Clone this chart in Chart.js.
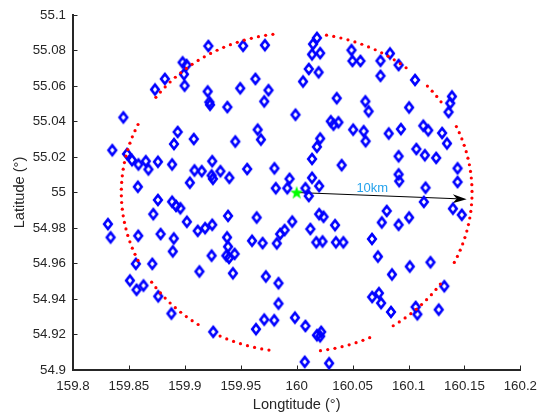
<!DOCTYPE html>
<html>
<head>
<meta charset="utf-8">
<script src="https://cdn.jsdelivr.net/npm/chart.js@4"></script>
<style>
  html, body { margin: 0; padding: 0; background: #fff; }
  #wrap { width: 545px; height: 417px; }
</style>
</head>
<body>
<div id="wrap"><canvas id="myChart" width="545" height="417"></canvas></div>
<script>
const ctx = document.querySelector("#myChart")

// candidate sites (longitude / latitude, degrees)
const siteLon = [
  159.8450, 159.8351, 159.8483, 159.8527, 159.8585, 159.8651, 159.8674, 159.8759, 159.8886, 159.8903,
  159.8936, 159.9080, 159.9045, 159.9086, 159.9151, 159.9245, 159.9239, 159.9251, 159.9318, 159.9398,
  159.9557, 159.9451, 159.9651, 159.9680, 159.9801, 159.9936, 159.9813, 159.9916, 159.9989, 159.8733,
  159.8821, 159.8980, 159.9015, 159.8992, 159.8998, 159.9210, 159.9204, 159.9219, 159.9225, 159.9380,
  159.9495, 159.9521, 159.9716, 159.9631, 159.9748, 159.9710, 159.8580,
  160.0181, 160.0146, 160.0137, 160.0210, 160.0108, 160.0196, 160.0057, 160.0490, 160.0499, 160.0570,
  160.0749, 160.0834, 160.0911, 160.0749, 160.1058, 160.0358, 160.0614, 160.0643, 160.0305, 160.0329,
  160.0373, 160.0505, 160.0599, 160.0616, 160.0823, 160.0932, 160.1005, 160.1388, 160.1373, 160.1358,
  160.1132, 160.1176, 160.1300, 160.1344, 160.0210, 160.0181, 160.0137, 160.0402, 160.0911, 160.1070,
  160.1146, 160.1247, 160.1438, 160.1438, 160.0911, 160.0917, 160.0137, 160.0201, 160.0078, 160.1152,
  159.8312, 159.8336, 159.8583, 159.8562, 159.8509, 159.8568, 159.8630, 159.8759, 159.8718, 159.8783,
  159.8709, 159.8762, 159.8886, 159.8921, 159.8960, 159.8901, 159.8892, 159.8880, 159.9018, 159.9115,
  159.9181, 159.9245, 159.9386, 159.9130, 159.9239, 159.9377, 159.9386, 159.9371, 159.9395, 159.9445,
  159.9430, 159.9254, 159.9642, 159.9601, 159.9695, 159.9822, 159.9852, 159.9892, 159.9960, 159.9724,
  159.9837, 159.9837, 159.9636, 159.9710, 159.9799, 159.9984,
  160.0108, 160.1137, 160.1397, 160.1476, 160.0201, 160.0240, 160.0122, 160.0343, 160.0175, 160.0231,
  160.0351, 160.0417, 160.0805, 160.0761, 160.0911, 160.1005, 160.0673, 160.0726, 160.0852, 160.1011,
  160.1196, 160.1320, 160.0675, 160.0735, 160.0755, 160.0843, 160.1064, 160.1079, 160.1270, 160.0078,
  160.0181, 160.0219, 160.0210, 160.0072, 160.0290
]
const siteLat = [
  55.0423, 55.0238, 55.0217, 55.0182, 55.0158, 55.0176, 55.0130, 55.0173, 55.0158, 55.0273,
  55.0341, 55.0301, 55.0055, 55.0124, 55.0120, 55.0176, 55.0096, 55.0077, 55.0120, 55.0083,
  55.0132, 55.0287, 55.0354, 55.0298, 55.0136, 55.0077, 55.0024, 55.0024, 55.0438, 55.0580,
  55.0640, 55.0733, 55.0718, 55.0666, 55.0602, 55.0825, 55.0569, 55.0509, 55.0494, 55.0481,
  55.0587, 55.0826, 55.0830, 55.0640, 55.0576, 55.0513, 55.0032,
  55.0871, 55.0836, 55.0778, 55.0785, 55.0696, 55.0677, 55.0625, 55.0802, 55.0741, 55.0741,
  55.0742, 55.0783, 55.0718, 55.0657, 55.0634, 55.0531, 55.0513, 55.0457, 55.0401, 55.0382,
  55.0395, 55.0354, 55.0345, 55.0289, 55.0332, 55.0357, 55.0479, 55.0541, 55.0503, 55.0453,
  55.0376, 55.0350, 55.0335, 55.0276, 55.0304, 55.0257, 55.0189, 55.0154, 55.0204, 55.0245,
  55.0210, 55.0195, 55.0136, 55.0059, 55.0102, 55.0064, 55.0083, 55.0036, 55.0024, 55.0027,
  54.9822, 54.9747, 54.9756, 54.9598, 54.9504, 54.9452, 54.9476, 54.9958, 54.9878, 54.9766,
  54.9598, 54.9415, 54.9948, 54.9924, 54.9911, 54.9741, 54.9668, 54.9318, 54.9835, 54.9784,
  54.9799, 54.9818, 54.9868, 54.9555, 54.9644, 54.9747, 54.9695, 54.9644, 54.9631, 54.9654,
  54.9545, 54.9215, 54.9859, 54.9728, 54.9715, 54.9713, 54.9766, 54.9788, 54.9836, 54.9527,
  54.9489, 54.9374, 54.9230, 54.9284, 54.9280, 54.9295,
  54.9980, 54.9947, 54.9909, 54.9874, 54.9878, 54.9863, 54.9794, 54.9816, 54.9719, 54.9724,
  54.9719, 54.9719, 54.9896, 54.9831, 54.9818, 54.9859, 54.9738, 54.9639, 54.9538, 54.9583,
  54.9607, 54.9472, 54.9411, 54.9433, 54.9377, 54.9327, 54.9355, 54.9314, 54.9340, 54.9248,
  54.9196, 54.9215, 54.9190, 54.9046, 54.9038
]

// centre point and 10 km range ring
const centre = [160.0, 55.0]
const radiusKm = 10
// parts of the ring that carry dots, degrees counter-clockwise from east
const ringArcs = [[-145.8, -123.3], [-115.9, -97.8], [-82.2, -63.5], [-56.6, -34.4],
                  [-26, 25.8], [34.6, 43.2], [51.4, 82.2], [97.8, 145.3], [154.8, 206]]
const ringStep = 2.4

// range arrow and its label
const arrowTo = [160.152, 54.9962]
const arrowText = "10km"
const arrowTextAt = [160.0676, 55.0021]

const xTicks = [159.8, 159.85, 159.9, 159.95, 160, 160.05, 160.1, 160.15, 160.2]
const yTicks = [54.9, 54.92, 54.94, 54.96, 54.98, 55, 55.02, 55.04, 55.06, 55.08, 55.1]

const axisColor = '#262626'
const fontFamily = "'Liberation Sans', Arial, Helvetica, sans-serif"

const kmPerDegLat = 111.195
const rLat = radiusKm / kmPerDegLat
const rLon = rLat / Math.cos(centre[1] * Math.PI / 180)

const ring = []
ringArcs.forEach(([a0, a1]) => {
  for (let a = a0; a <= a1 + 1e-9; a += ringStep) {
    const t = a * Math.PI / 180
    ring.push({x: centre[0] + rLon * Math.cos(t), y: centre[1] + rLat * Math.sin(t)})
  }
})

// hollow blue diamond marker
const diamond = document.createElement('canvas')
diamond.width = 14
diamond.height = 16
{
  const g = diamond.getContext('2d')
  g.strokeStyle = '#0000ff'
  g.lineWidth = 2.6
  g.lineJoin = 'miter'
  g.beginPath()
  g.moveTo(7, 3.1)
  g.lineTo(10.8, 8)
  g.lineTo(7, 12.9)
  g.lineTo(3.2, 8)
  g.closePath()
  g.stroke()
}

// filled green pentagram
const star = document.createElement('canvas')
star.width = 16
star.height = 16
{
  const g = star.getContext('2d')
  g.fillStyle = '#00ff00'
  g.beginPath()
  for (let i = 0; i < 10; i++) {
    const r = i % 2 === 0 ? 7 : 2.8
    const t = -Math.PI / 2 + i * Math.PI / 5
    const px = 8 + r * Math.cos(t), py = 8.5 + r * Math.sin(t)
    i === 0 ? g.moveTo(px, py) : g.lineTo(px, py)
  }
  g.closePath()
  g.fill()
}

const sites = siteLon.map((lon, i) => ({x: lon, y: siteLat[i]}))

const overlay = {
  id: 'overlay',
  beforeDatasetsDraw(chart) {
    const {ctx, scales: {x, y}} = chart
    const x0 = x.getPixelForValue(centre[0]), y0 = y.getPixelForValue(centre[1])
    const x1 = x.getPixelForValue(arrowTo[0]), y1 = y.getPixelForValue(arrowTo[1])
    const ang = Math.atan2(y1 - y0, x1 - x0)
    const len = Math.hypot(x1 - x0, y1 - y0)
    ctx.save()
    ctx.translate(x0, y0)
    ctx.rotate(ang)
    ctx.strokeStyle = '#000'
    ctx.fillStyle = '#000'
    ctx.lineWidth = 1
    ctx.beginPath()
    ctx.moveTo(0, 0)
    ctx.lineTo(len - 10, 0)
    ctx.stroke()
    ctx.beginPath()
    ctx.moveTo(len, 0)
    ctx.lineTo(len - 14, -4.5)
    ctx.lineTo(len - 10, 0)
    ctx.lineTo(len - 14, 4.5)
    ctx.closePath()
    ctx.fill()
    ctx.restore()

    ctx.save()
    ctx.fillStyle = '#26a3ec'
    ctx.font = '13px ' + fontFamily
    ctx.textAlign = 'center'
    ctx.textBaseline = 'middle'
    ctx.fillText(arrowText, x.getPixelForValue(arrowTextAt[0]), y.getPixelForValue(arrowTextAt[1]))
    ctx.restore()
  },
  afterDraw(chart) {
    // tick marks point into the plot
    const {ctx, chartArea, scales: {x, y}} = chart
    ctx.save()
    ctx.strokeStyle = axisColor
    ctx.lineWidth = 1
    ctx.beginPath()
    x.ticks.forEach(t => {
      const px = Math.round(x.getPixelForValue(t.value)) + 0.5
      ctx.moveTo(px, chartArea.bottom)
      ctx.lineTo(px, chartArea.bottom - 4.5)
    })
    y.ticks.forEach(t => {
      const py = Math.round(y.getPixelForValue(t.value)) + 0.5
      ctx.moveTo(chartArea.left, py)
      ctx.lineTo(chartArea.left + 4.5, py)
    })
    ctx.stroke()
    ctx.restore()
  }
}

const fmt = v => String(+Number(v).toFixed(2))

const config = {
  type: 'scatter',
  data: {
    datasets: [
      {
        label: 'range',
        data: ring,
        pointStyle: 'circle',
        pointRadius: 1.6,
        pointBorderWidth: 0,
        backgroundColor: '#ff0000',
        borderColor: '#ff0000'
      },
      {
        label: 'sites',
        data: sites,
        pointStyle: diamond,
        pointRadius: 6
      },
      {
        label: 'centre',
        data: [{x: centre[0], y: centre[1]}],
        pointStyle: star,
        pointRadius: 7
      }
    ]
  },
  options: {
    responsive: false,
    devicePixelRatio: 1,
    animation: false,
    events: [],
    layout: {padding: {top: 13, right: 19, left: 0, bottom: 0}},
    plugins: {
      legend: {display: false},
      tooltip: {enabled: false}
    },
    scales: {
      x: {
        type: 'linear',
        min: 159.8,
        max: 160.2,
        afterBuildTicks: s => { s.ticks = xTicks.map(v => ({value: v})) },
        afterFit: s => { s.height = 47 },
        grid: {display: false, drawTicks: false},
        border: {display: true, color: axisColor, width: 2},
        ticks: {
          autoSkip: false,
          maxRotation: 0,
          padding: 8,
          color: axisColor,
          font: {family: fontFamily, size: 13.3},
          callback: fmt
        },
        title: {
          display: true,
          text: 'Longtitude (°)',
          color: axisColor,
          font: {family: fontFamily, size: 14.6},
          padding: {top: 0, bottom: 3}
        }
      },
      y: {
        type: 'linear',
        min: 54.9,
        max: 55.1,
        afterBuildTicks: s => { s.ticks = yTicks.map(v => ({value: v})) },
        afterFit: s => { s.width = 73 },
        grid: {display: false, drawTicks: false},
        border: {display: true, color: axisColor, width: 2},
        ticks: {
          autoSkip: false,
          padding: 7,
          color: axisColor,
          font: {family: fontFamily, size: 13.3},
          callback: fmt
        },
        title: {
          display: true,
          text: 'Latitude (°)',
          color: axisColor,
          font: {family: fontFamily, size: 14.6},
          padding: {top: 11, bottom: 0}
        }
      }
    }
  },
  plugins: [overlay]
}

const chart = new Chart(ctx, config)
</script>
</body>
</html>
